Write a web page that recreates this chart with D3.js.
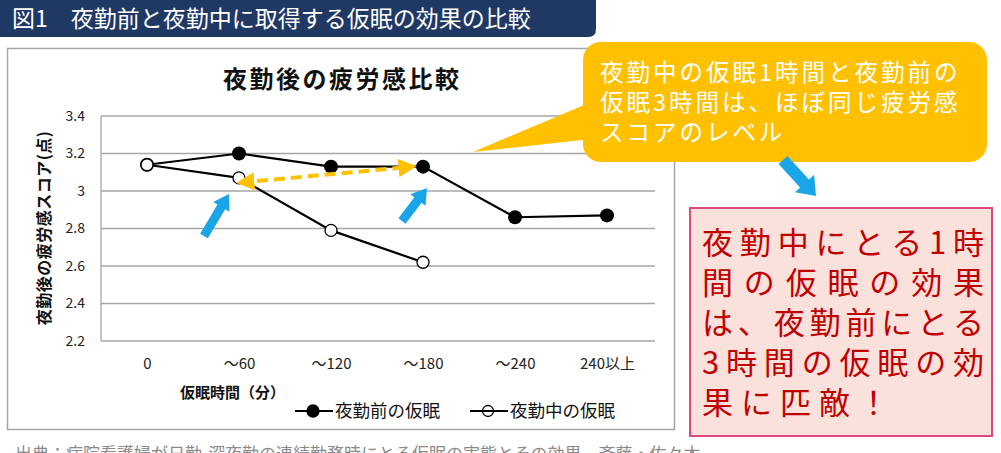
<!DOCTYPE html>
<html>
<head>
<meta charset="utf-8">
<script src="https://cdn.jsdelivr.net/npm/d3@7"></script>
<style>
  body { margin: 0; background: #fff; }
  svg { display: block; font-family: "Noto Sans CJK JP", "Noto Sans", sans-serif; }
</style>
</head>
<body>
<svg id="chart" width="1001" height="453"></svg>
<script>
// ---- data ----
var categories = ["0", "～60", "～120", "～180", "～240", "240以上"];
var beforeShift = [3.14, 3.20, 3.13, 3.13, 2.86, 2.87];     // 夜勤前の仮眠
var duringShift = [3.14, 3.07, 2.79, 2.62, null, null];     // 夜勤中の仮眠
var yTicks = [2.2, 2.4, 2.6, 2.8, 3.0, 3.2, 3.4];
var seriesNames = ["夜勤前の仮眠", "夜勤中の仮眠"];

var figTitle = "図1　夜勤前と夜勤中に取得する仮眠の効果の比較";
var chartTitle = "夜勤後の疲労感比較";
var yTitle = "夜勤後の疲労感スコア(点)";
var xTitle = "仮眠時間（分）";
var calloutLines = ["夜勤中の仮眠1時間と夜勤前の", "仮眠3時間は、ほぼ同じ疲労感", "スコアのレベル"];
var noteLines = ["夜勤中にとる1時", "間の仮眠の効果", "は、夜勤前にとる", "3時間の仮眠の効", "果に匹敵！"];
var sourceText = "出典：病院看護婦が日勤-深夜勤の連続勤務時にとる仮眠の実態とその効果　斉藤・佐々木";

var svg = d3.select("#chart");

/// scales
var x = d3.scalePoint().domain(categories).range([147, 607]);
var y = d3.scaleLinear().domain([2.2, 3.4]).range([341, 116]);
var plotLeft = 101, plotRight = 655;

/// title bar
svg.append("path")
    .attr("d", "M0,0 H596 V29 Q596,37 588,37 H0 Z")
    .attr("fill", "#1f3864");
svg.append("text")
    .attr("x", 12).attr("y", 27)
    .attr("fill", "#fff")
    .attr("font-size", 23)
    .text(figTitle);

/// chart frame
svg.append("rect")
    .attr("x", 7.5).attr("y", 48.5)
    .attr("width", 667).attr("height", 381)
    .attr("fill", "#fff")
    .attr("stroke", "#a6a6a6").attr("stroke-width", 1.5);

svg.append("text")
    .attr("x", 223).attr("y", 88)
    .attr("font-size", 24).attr("font-weight", "bold")
    .attr("letter-spacing", 2.5)
    .attr("fill", "#111")
    .text(chartTitle);

/// grid + y axis
var g = svg.append("g");
g.selectAll("line.grid")
    .data(yTicks)
  .enter().append("line")
    .attr("class", "grid")
    .attr("x1", plotLeft).attr("x2", plotRight)
    .attr("y1", function(d) { return y(d); })
    .attr("y2", function(d) { return y(d); })
    .attr("stroke", "#a6a6a6").attr("stroke-width", 1.3);

g.append("line")
    .attr("x1", plotLeft).attr("x2", plotLeft)
    .attr("y1", y(3.4)).attr("y2", y(2.2))
    .attr("stroke", "#a6a6a6").attr("stroke-width", 1.3);

var yAxis = d3.axisLeft(y).tickValues(yTicks).tickSize(0).tickPadding(0)
    .tickFormat(function(d) { return d === 3 ? "3" : d3.format(".1f")(d); });
svg.append("g")
    .attr("transform", "translate(85,0)")
    .call(yAxis)
    .call(function(s) { s.select(".domain").remove(); })
    .selectAll("text")
    .attr("font-size", 14)
    .attr("fill", "#222")
    .style("font-family", "'Noto Sans CJK JP', sans-serif");

var xAxis = d3.axisBottom(x).tickSize(0).tickPadding(0);
svg.append("g")
    .attr("transform", "translate(0,358)")
    .call(xAxis)
    .call(function(s) { s.select(".domain").remove(); })
    .selectAll("text")
    .attr("font-size", 15)
    .attr("fill", "#222")
    .style("font-family", "'Noto Sans CJK JP', sans-serif");

svg.append("text")
    .attr("transform", "translate(50,228) rotate(-90)")
    .attr("text-anchor", "middle")
    .attr("font-size", 16).attr("font-weight", "bold")
    .attr("letter-spacing", 0.5)
    .attr("fill", "#111")
    .text(yTitle);

svg.append("text")
    .attr("x", 180).attr("y", 398)
    .attr("font-size", 15).attr("font-weight", "bold")
    .attr("fill", "#111")
    .text(xTitle);

/// lines
var line = d3.line()
    .defined(function(d) { return d != null; })
    .x(function(d, i) { return x(categories[i]); })
    .y(function(d) { return y(d); });

svg.append("path").datum(beforeShift)
    .attr("d", line).attr("fill", "none")
    .attr("stroke", "#000").attr("stroke-width", 2.2);
svg.append("path").datum(duringShift)
    .attr("d", line).attr("fill", "none")
    .attr("stroke", "#000").attr("stroke-width", 2.2);

svg.selectAll("circle.before")
    .data(beforeShift)
  .enter().append("circle")
    .attr("class", "before")
    .attr("cx", function(d, i) { return x(categories[i]); })
    .attr("cy", function(d) { return y(d); })
    .attr("r", 7).attr("fill", "#000");

svg.selectAll("circle.during")
    .data(duringShift.map(function(d, i) { return {v: d, c: categories[i]}; }).filter(function(d) { return d.v != null; }))
  .enter().append("circle")
    .attr("class", "during")
    .attr("cx", function(d) { return x(d.c); })
    .attr("cy", function(d) { return y(d.v); })
    .attr("r", 6).attr("fill", "#fff")
    .attr("stroke", "#000").attr("stroke-width", 1.3);

/// legend
var legend = svg.append("g").attr("transform", "translate(0,411)");
[0, 1].forEach(function(k) {
    var lx = k === 0 ? 295 : 470;
    legend.append("line")
        .attr("x1", lx).attr("x2", lx + 38)
        .attr("stroke", "#000").attr("stroke-width", 2.2);
    legend.append("circle")
        .attr("cx", lx + 18).attr("r", k === 0 ? 6 : 5.5)
        .attr("fill", k === 0 ? "#000" : "none")
        .attr("stroke", "#000").attr("stroke-width", 1.3);
    legend.append("text")
        .attr("x", lx + 40).attr("y", 6)
        .attr("font-size", 17.5).attr("fill", "#111")
        .text(seriesNames[k]);
});

/// orange dashed double arrow
var defs = svg.append("defs");
defs.append("marker")
    .attr("id", "orangeHead")
    .attr("viewBox", "0 0 10 10")
    .attr("refX", 8).attr("refY", 5)
    .attr("markerWidth", 4.5).attr("markerHeight", 4.5)
    .attr("markerUnits", "strokeWidth")
    .attr("orient", "auto-start-reverse")
  .append("path")
    .attr("d", "M0,0 L10,5 L0,10 Z")
    .attr("fill", "#ffc000");

svg.append("line")
    .attr("x1", x("～60") + 1).attr("y1", y(3.045))
    .attr("x2", x("～180") - 10).attr("y2", y(3.13))
    .attr("stroke", "#ffc000").attr("stroke-width", 4)
    .attr("stroke-dasharray", "11,6")
    .attr("marker-start", "url(#orangeHead)")
    .attr("marker-end", "url(#orangeHead)");

/// blue block arrows
function blockArrow(x1, y1, x2, y2, shaft, head, headLen) {
    var dx = x2 - x1, dy = y2 - y1, L = Math.sqrt(dx * dx + dy * dy);
    var ux = dx / L, uy = dy / L, px = -uy, py = ux;
    var bx = x2 - ux * headLen, by = y2 - uy * headLen;
    var pts = [
        [x1 + px * shaft / 2, y1 + py * shaft / 2],
        [bx + px * shaft / 2, by + py * shaft / 2],
        [bx + px * head / 2, by + py * head / 2],
        [x2, y2],
        [bx - px * head / 2, by - py * head / 2],
        [bx - px * shaft / 2, by - py * shaft / 2],
        [x1 - px * shaft / 2, y1 - py * shaft / 2]
    ];
    return "M" + pts.map(function(p) { return p.join(","); }).join("L") + "Z";
}
var blue = "#1aa6e6";
svg.append("path").attr("d", blockArrow(204, 236, 229, 194, 9, 19, 15)).attr("fill", blue);
svg.append("path").attr("d", blockArrow(402, 221, 427, 188, 9, 19, 15)).attr("fill", blue);

/// callout
svg.append("path")
    .attr("d", "M596,100 L473,152 L600,138 Z")
    .attr("fill", "#ffc000");
svg.append("rect")
    .attr("x", 583).attr("y", 42)
    .attr("width", 404).attr("height", 120)
    .attr("rx", 18)
    .attr("fill", "#ffc000");
svg.append("g").selectAll("text")
    .data(calloutLines)
  .enter().append("text")
    .attr("x", 600)
    .attr("y", function(d, i) { return 81 + i * 30; })
    .attr("font-size", 23.5)
    .attr("letter-spacing", 3)
    .attr("fill", "#fff")
    .text(function(d) { return d; });

svg.append("path").attr("d", blockArrow(783, 160, 816, 196, 12, 26, 17)).attr("fill", blue);

/// pink note
svg.append("rect")
    .attr("x", 690).attr("y", 208)
    .attr("width", 302).attr("height", 228)
    .attr("fill", "#fbe1dc")
    .attr("stroke", "#e0487d").attr("stroke-width", 2);
svg.append("g").selectAll("text")
    .data(noteLines)
  .enter().append("text")
    .attr("x", 702)
    .attr("y", function(d, i) { return 254 + i * 40; })
    .attr("font-size", 31)
    .attr("fill", "#c00000")
    .each(function(d, i) {
        var t = d3.select(this).text(d);
        if (i < 4) t.attr("textLength", 282).attr("lengthAdjust", "spacing");
        else t.attr("letter-spacing", 8);
    });

/// source
svg.append("text")
    .attr("x", 15).attr("y", 460)
    .attr("font-size", 17)
    .attr("fill", "#8a8a8a")
    .text(sourceText);
</script>
</body>
</html>
